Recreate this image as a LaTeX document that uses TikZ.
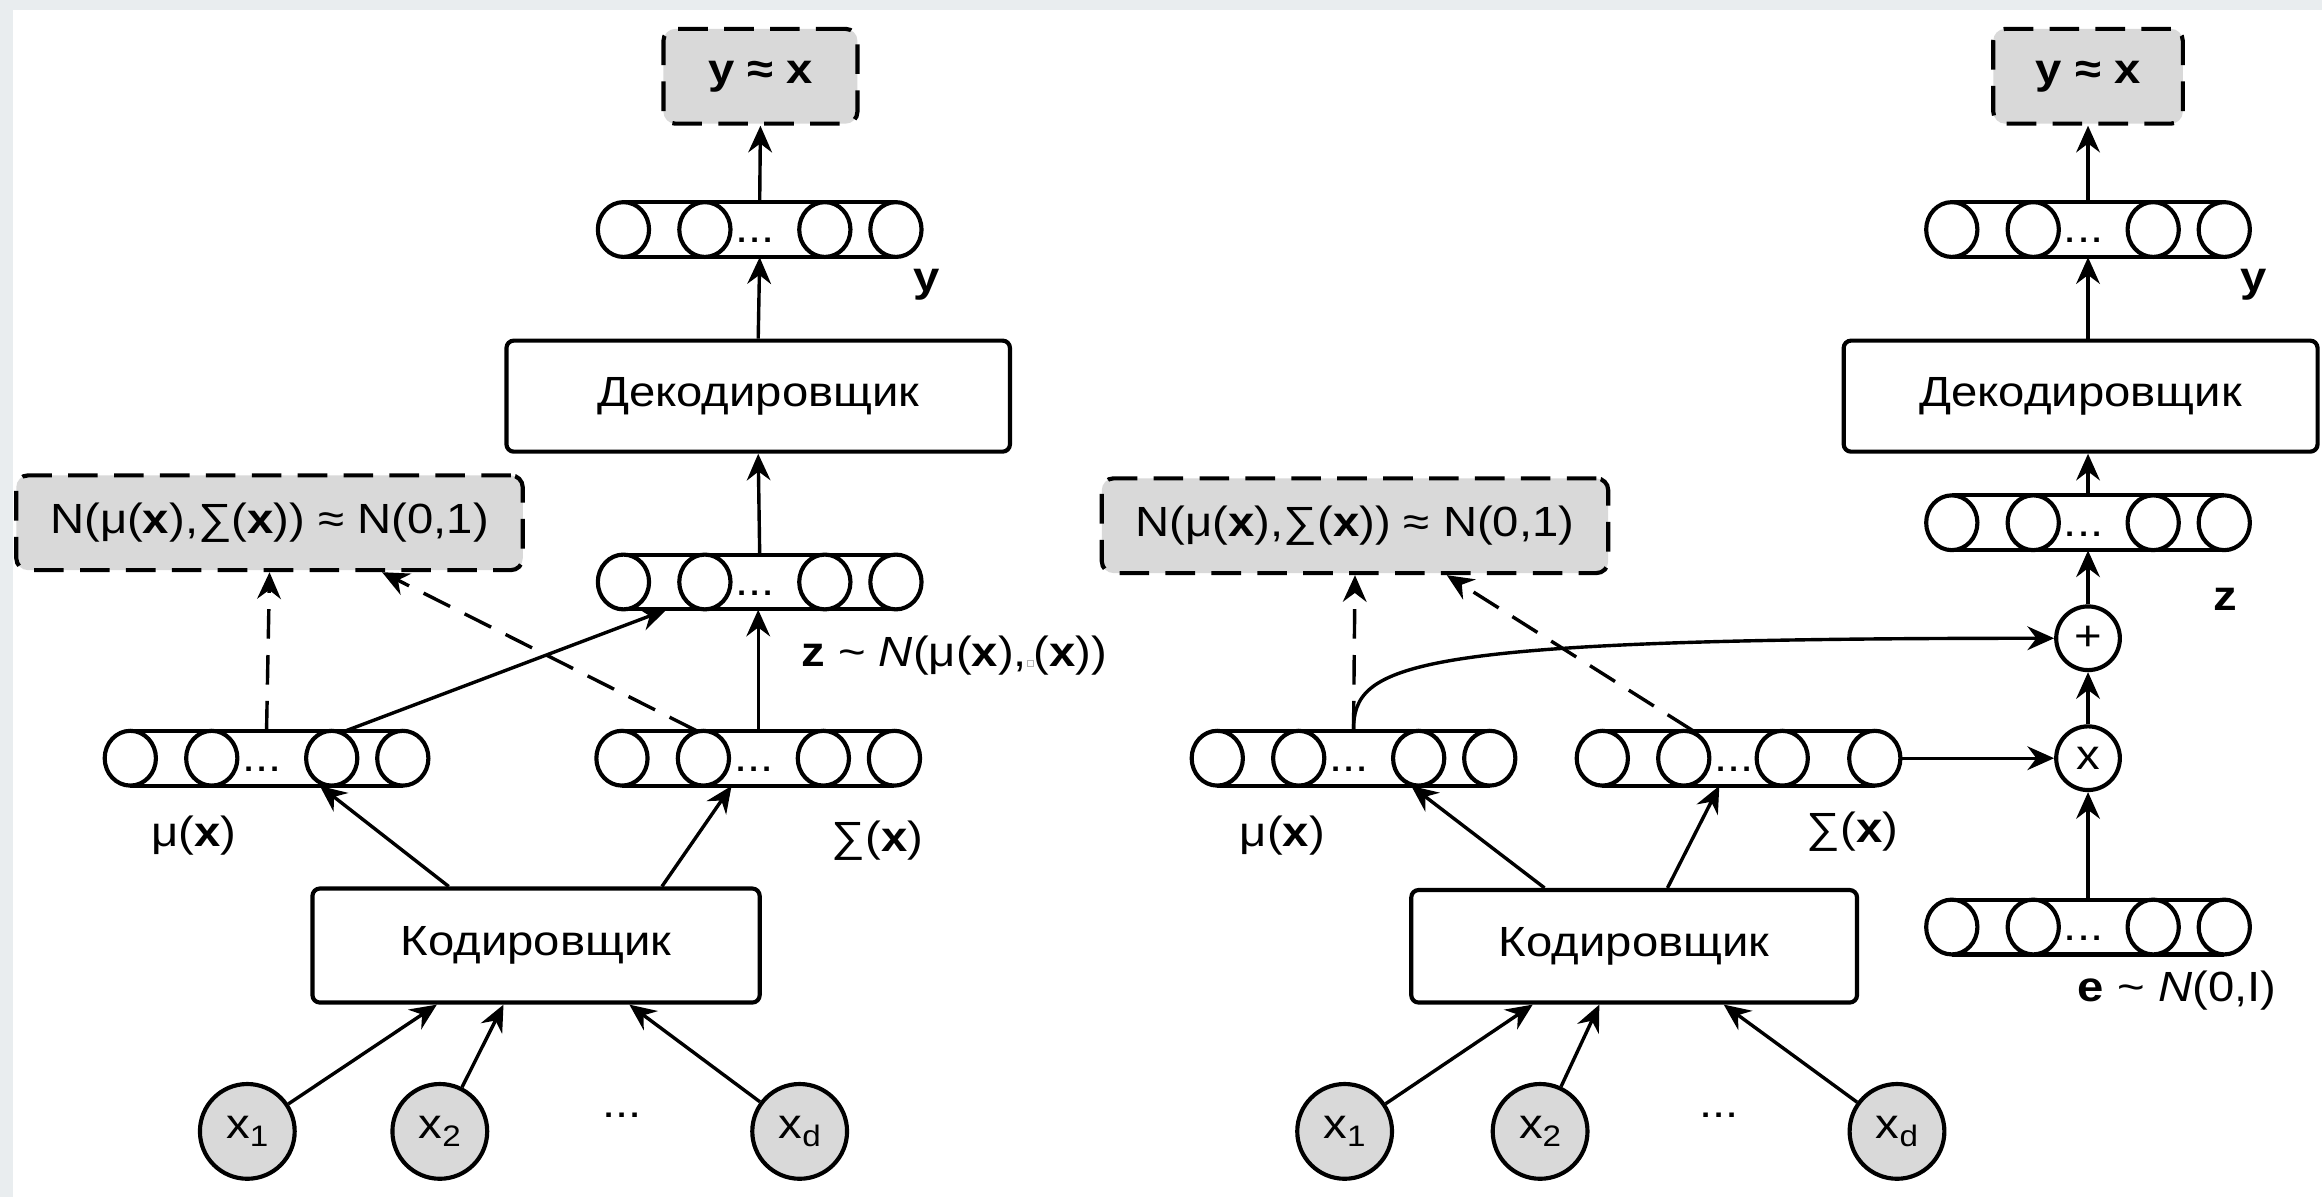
\documentclass[tikz,border=0pt]{standalone}
\usepackage{fontspec}
\setmainfont{Liberation Sans}[FakeStretch=1.12]
\usetikzlibrary{arrows.meta,calc}
\definecolor{bgc}{HTML}{E9EDEF}
\definecolor{nodegray}{HTML}{D9D9D9}
\newcommand\xsub[1]{x\raisebox{-5.5pt}{\fontsize{20}{20}\selectfont #1}}
\newcommand\tinybox{{\color{gray!60}\fboxsep=0pt\fboxrule=0.6pt\fbox{\rule{0pt}{3.5pt}\hspace{3.5pt}}}}
\newcommand\cylinderat[2]{%
\begin{scope}[shift={(#1.center)}]
\draw[shapeline] (-92,-18.5) -- (92,-18.5) (-92,18.5) -- (92,18.5);
\foreach \xx in {-92,-37,#2,92}{\draw[shapeline,fill=white] (\xx,0) ellipse [x radius=17.3pt, y radius=18.5pt];}
\node[anchor=base] at (-3,9) {...};
\end{scope}}
\begin{document}
\begin{tikzpicture}[x=1pt,y=-1pt,
 every node/.style={font=\fontsize{28.5}{34}\selectfont},
 shapeline/.style={line width=2.8pt},
 box/.style={draw, line width=2.8pt, rounded corners=5pt, fill=white, inner sep=0pt},
 dbox/.style={draw, line width=2.8pt, rounded corners=8pt, fill=nodegray, dash pattern=on 20pt off 11pt, inner sep=0pt},
 cylbox/.style={inner sep=0pt, minimum width=218.6pt, minimum height=37pt},
 xnode/.style={circle, draw, line width=2.8pt, fill=nodegray, minimum size=64pt, inner sep=0pt},
 opnode/.style={circle, draw, line width=2.8pt, fill=white, minimum size=43pt, inner sep=0pt},
 arr/.style={line width=2.3pt, -{Stealth[length=18pt,width=16pt,inset=6pt]}},
 darr/.style={arr, dash pattern=on 20pt off 11pt},
]
\useasboundingbox (0,0) rectangle (1568,808.3);
\fill[bgc] (0,0) rectangle (1568,808.3);
\fill[white] (9,7) rectangle (1568,808.3);

% ---------- left ----------
\node[dbox, minimum width=131pt, minimum height=64pt] (yx1) at (513.5,51.5) {\textbf{y ≈ x}};
\node[cylbox] (cT1) at (513,155) {};
\node[box, minimum width=340pt, minimum height=75pt] (dec1) at (512,267.5) {Декодировщик};
\node[cylbox] (cZ1) at (513,393) {};
\node[dbox, minimum width=342pt, minimum height=64pt] (N1) at (182,353) {N(μ(\textbf{x}),∑(\textbf{x})) ≈ N(0,1)};
\node[cylbox] (cM1) at (180,512) {};
\node[cylbox] (cS1) at (512,512) {};
\node[box, minimum width=302pt, minimum height=77pt] (enc1) at (362,638.5) {Кодировщик};
\node[xnode] (x11) at (167,764) {\xsub{1}};
\node[xnode] (x12) at (297,764) {\xsub{2}};
\node[anchor=base] (dots1) at (420,754.5) {...};
\node[xnode] (x1d) at (540,764) {\xsub{d}};
\node[anchor=base] (ly1) at (626,197) {\textbf{y}};
\node[anchor=base west, inner sep=0pt] (lz1) at (541,450) {\textbf{z} \char"7E\ \textit{N}(μ(\textbf{x}),\tinybox(\textbf{x}))};
\node (lmu1) at (131,564.5) {μ(\textbf{x})};
\node (lsig1) at (592.5,567.5) {∑(\textbf{x})};
\cylinderat{cT1}{44}
\cylinderat{cZ1}{44}
\cylinderat{cM1}{44}
\cylinderat{cS1}{44}

% ---------- right ----------
\node[dbox, minimum width=128pt, minimum height=64pt] (yx2) at (1410,51.5) {\textbf{y ≈ x}};
\node[cylbox] (cT2) at (1410,155) {};
\node[box, minimum width=320pt, minimum height=75pt] (dec2) at (1405,267.5) {Декодировщик};
\node[cylbox] (cZ2) at (1410,353) {};
\node[opnode] (plus) at (1410,431) {+};
\node[opnode] (times) at (1410,512) {x};
\node[cylbox] (cE) at (1410,626) {};
\node[dbox, minimum width=342pt, minimum height=64pt] (N2) at (915,355) {N(μ(\textbf{x}),∑(\textbf{x})) ≈ N(0,1)};
\node[cylbox] (cM2) at (914,512) {};
\node[cylbox] (cS2) at (1174,512) {};
\node[box, minimum width=301pt, minimum height=76pt] (enc2) at (1103.5,639) {Кодировщик};
\node[xnode] (x21) at (908,764) {\xsub{1}};
\node[xnode] (x22) at (1040,764) {\xsub{2}};
\node[anchor=base] (dots2) at (1161,754.5) {...};
\node[xnode] (x2d) at (1281,764) {\xsub{d}};
\node[anchor=base] (ly2) at (1522,197) {\textbf{y}};
\node[anchor=base] (lz2) at (1503,412) {\textbf{z}};
\node[anchor=base west, inner sep=0pt] (le) at (1403,676.5) {\textbf{e} \char"7E\ \textit{N}(0,I)};
\node (lmu2) at (866,564.5) {μ(\textbf{x})};
\node (lsig2) at (1251,561.5) {∑(\textbf{x})};
\cylinderat{cT2}{44}
\cylinderat{cZ2}{44}
\cylinderat{cE}{44}
\cylinderat{cM2}{44}
\cylinderat{cS2}{29.5}

% ---------- left arrows ----------
\draw[arr] (cT1.north) -- (yx1.south);
\draw[arr] (dec1.north) -- (cT1.south);
\draw[arr] (cZ1.north) -- (dec1.south);
\draw[arr] (cS1.north) -- (cS1.north |- cZ1.south);
\draw[arr] ([xshift=54pt]cM1.north) -- ([xshift=-63pt]cZ1.south);
\draw[darr] (cM1.north) -- (N1.south);
\draw[darr] ([xshift=-42pt]cS1.north) -- ([xshift=76pt]N1.south);
\draw[arr] ([xshift=-59pt]enc1.north) -- ([xshift=36pt]cM1.south);
\draw[arr] ([xshift=85pt]enc1.north) -- ([xshift=-18pt]cS1.south);
\draw[arr] (x11) -- ([xshift=-67pt]enc1.south);
\draw[arr] (x12) -- ([xshift=-22pt]enc1.south);
\draw[arr] (x1d) -- ([xshift=63pt]enc1.south);

% ---------- right arrows ----------
\draw[arr] (cT2.north) -- (yx2.south);
\draw[arr] (cT2.south |- dec2.north) -- (cT2.south);
\draw[arr] (cZ2.north) -- (cZ2.north |- dec2.south);
\draw[arr] (plus.north) -- (cZ2.south);
\draw[arr] (times.north) -- (plus.south);
\draw[arr] (cE.north) -- (times.south);
\draw[arr] (cS2.east) -- (times.west);
\draw[arr] (cM2.north) .. controls +(0,-45) and +(-440,0) .. (plus.west);
\draw[darr] (cM2.north) -- (N2.south);
\draw[darr] ([xshift=-31pt]cS2.north) -- ([xshift=62pt]N2.south);
\draw[arr] ([xshift=-60.5pt]enc2.north) -- ([xshift=39pt]cM2.south);
\draw[arr] ([xshift=22.5pt]enc2.north) -- ([xshift=-13pt]cS2.south);
\draw[arr] (x21) -- ([xshift=-68.5pt]enc2.south);
\draw[arr] (x22) -- ([xshift=-23.5pt]enc2.south);
\draw[arr] (x2d) -- ([xshift=60.5pt]enc2.south);
\end{tikzpicture}
\end{document}
